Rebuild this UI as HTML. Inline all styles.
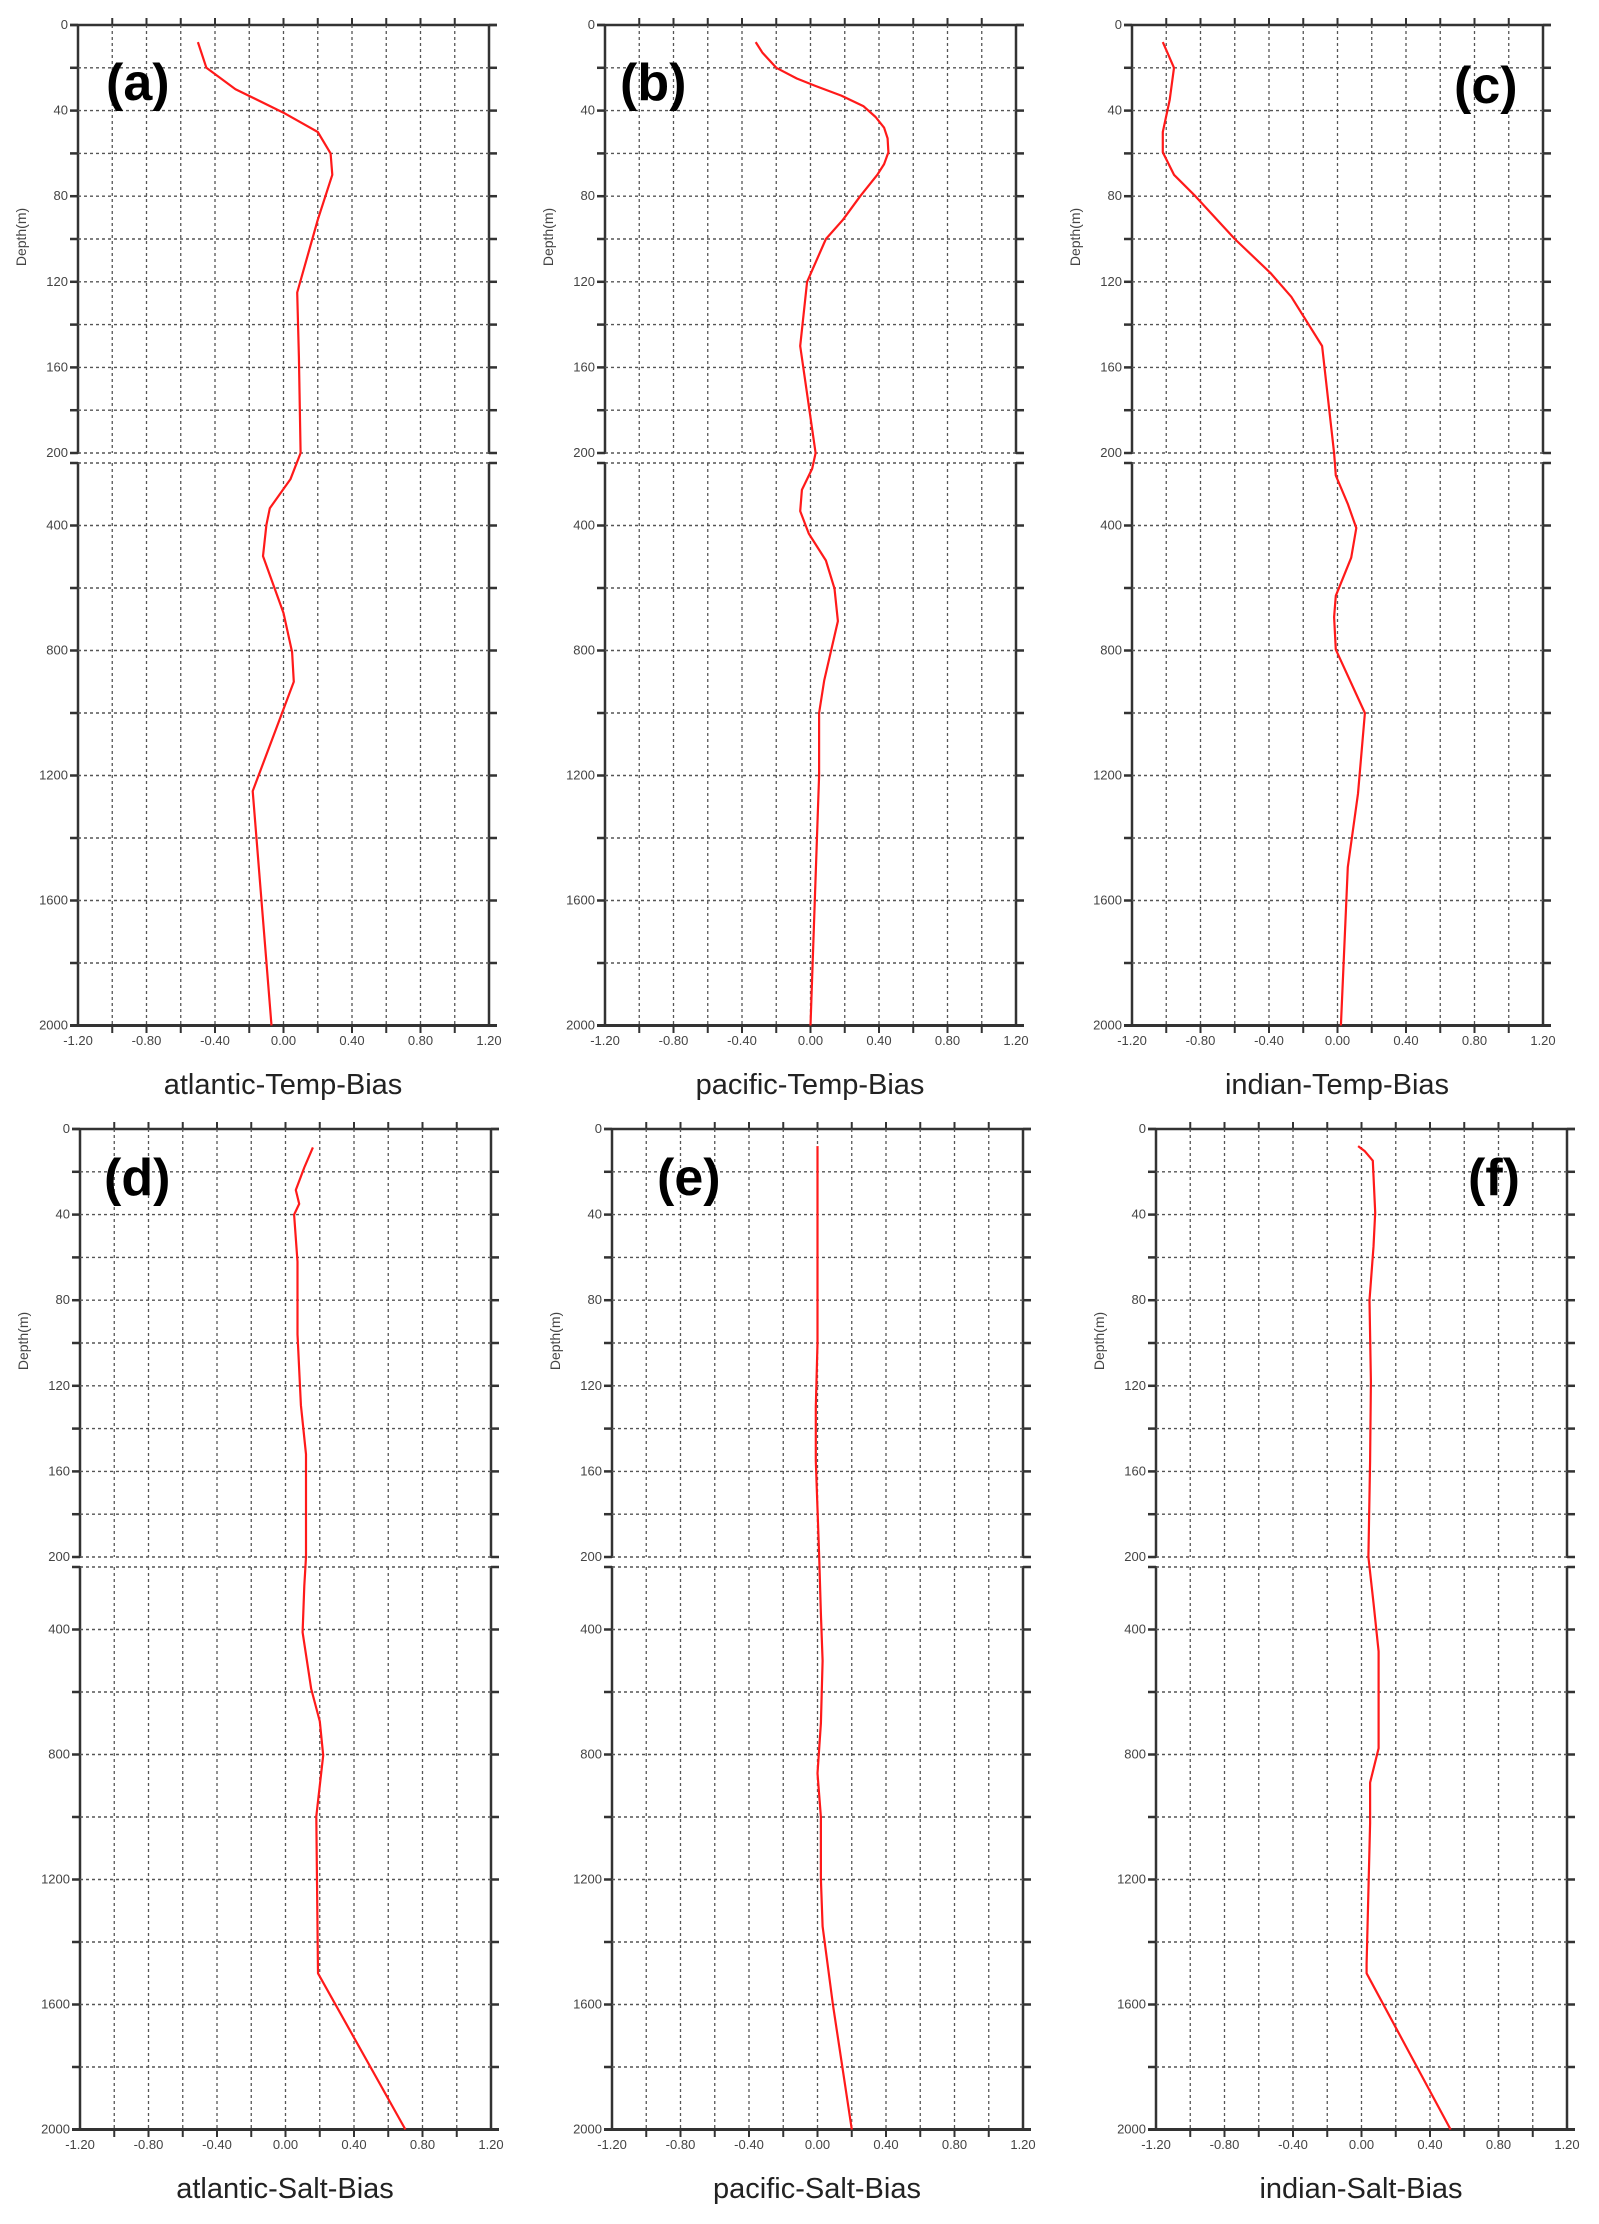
<!DOCTYPE html>
<html><head><meta charset="utf-8"><style>
html,body{margin:0;padding:0;background:#fff;width:1599px;height:2224px;overflow:hidden}
svg{display:block}
.t{font-family:"Liberation Sans",sans-serif;font-size:13px;fill:#444}
.ti{font-family:"Liberation Sans",sans-serif;font-size:29px;fill:#222;text-anchor:middle}
.lb{font-family:"Liberation Sans",sans-serif;font-size:52px;font-weight:bold;fill:#000}
.yl{text-anchor:end}
.xl{text-anchor:middle}
.dl{font-family:"Liberation Sans",sans-serif;font-size:14px;fill:#444;text-anchor:middle}
</style></head><body>
<svg id="s" width="1599" height="2224" viewBox="0 0 1599 2224" xmlns="http://www.w3.org/2000/svg">
<g id="p0" transform="translate(78,25)">
<text class="t yl" x="-10" y="4">0</text><text class="t yl" x="-10" y="89.6">40</text><text class="t yl" x="-10" y="175.2">80</text><text class="t yl" x="-10" y="260.8">120</text><text class="t yl" x="-10" y="346.4">160</text><text class="t yl" x="-10" y="432">200</text><text class="t yl" x="-10" y="504.5">400</text><text class="t yl" x="-10" y="629.5">800</text><text class="t yl" x="-10" y="754.5">1200</text><text class="t yl" x="-10" y="879.5">1600</text><text class="t yl" x="-10" y="1004.5">2000</text>
<text class="t xl" x="0" y="1020">-1.20</text><text class="t xl" x="68.5" y="1020">-0.80</text><text class="t xl" x="137" y="1020">-0.40</text><text class="t xl" x="205.5" y="1020">0.00</text><text class="t xl" x="274" y="1020">0.40</text><text class="t xl" x="342.5" y="1020">0.80</text><text class="t xl" x="411" y="1020">1.20</text>
<text class="dl" transform="translate(-52,212) rotate(-90)">Depth(m)</text>
<text class="ti" x="205" y="1069">atlantic-Temp-Bias</text>
<text class="lb" x="28" y="75">(a)</text>
</g>
<g id="p1" transform="translate(605,25)">
<text class="t yl" x="-10" y="4">0</text><text class="t yl" x="-10" y="89.6">40</text><text class="t yl" x="-10" y="175.2">80</text><text class="t yl" x="-10" y="260.8">120</text><text class="t yl" x="-10" y="346.4">160</text><text class="t yl" x="-10" y="432">200</text><text class="t yl" x="-10" y="504.5">400</text><text class="t yl" x="-10" y="629.5">800</text><text class="t yl" x="-10" y="754.5">1200</text><text class="t yl" x="-10" y="879.5">1600</text><text class="t yl" x="-10" y="1004.5">2000</text>
<text class="t xl" x="0" y="1020">-1.20</text><text class="t xl" x="68.5" y="1020">-0.80</text><text class="t xl" x="137" y="1020">-0.40</text><text class="t xl" x="205.5" y="1020">0.00</text><text class="t xl" x="274" y="1020">0.40</text><text class="t xl" x="342.5" y="1020">0.80</text><text class="t xl" x="411" y="1020">1.20</text>
<text class="dl" transform="translate(-52,212) rotate(-90)">Depth(m)</text>
<text class="ti" x="205" y="1069">pacific-Temp-Bias</text>
<text class="lb" x="15" y="75">(b)</text>
</g>
<g id="p2" transform="translate(1132,25)">
<text class="t yl" x="-10" y="4">0</text><text class="t yl" x="-10" y="89.6">40</text><text class="t yl" x="-10" y="175.2">80</text><text class="t yl" x="-10" y="260.8">120</text><text class="t yl" x="-10" y="346.4">160</text><text class="t yl" x="-10" y="432">200</text><text class="t yl" x="-10" y="504.5">400</text><text class="t yl" x="-10" y="629.5">800</text><text class="t yl" x="-10" y="754.5">1200</text><text class="t yl" x="-10" y="879.5">1600</text><text class="t yl" x="-10" y="1004.5">2000</text>
<text class="t xl" x="0" y="1020">-1.20</text><text class="t xl" x="68.5" y="1020">-0.80</text><text class="t xl" x="137" y="1020">-0.40</text><text class="t xl" x="205.5" y="1020">0.00</text><text class="t xl" x="274" y="1020">0.40</text><text class="t xl" x="342.5" y="1020">0.80</text><text class="t xl" x="411" y="1020">1.20</text>
<text class="dl" transform="translate(-52,212) rotate(-90)">Depth(m)</text>
<text class="ti" x="205" y="1069">indian-Temp-Bias</text>
<text class="lb" x="322" y="78">(c)</text>
</g>
<g id="p3" transform="translate(80,1129)">
<text class="t yl" x="-10" y="4">0</text><text class="t yl" x="-10" y="89.6">40</text><text class="t yl" x="-10" y="175.2">80</text><text class="t yl" x="-10" y="260.8">120</text><text class="t yl" x="-10" y="346.4">160</text><text class="t yl" x="-10" y="432">200</text><text class="t yl" x="-10" y="504.5">400</text><text class="t yl" x="-10" y="629.5">800</text><text class="t yl" x="-10" y="754.5">1200</text><text class="t yl" x="-10" y="879.5">1600</text><text class="t yl" x="-10" y="1004.5">2000</text>
<text class="t xl" x="0" y="1020">-1.20</text><text class="t xl" x="68.5" y="1020">-0.80</text><text class="t xl" x="137" y="1020">-0.40</text><text class="t xl" x="205.5" y="1020">0.00</text><text class="t xl" x="274" y="1020">0.40</text><text class="t xl" x="342.5" y="1020">0.80</text><text class="t xl" x="411" y="1020">1.20</text>
<text class="dl" transform="translate(-52,212) rotate(-90)">Depth(m)</text>
<text class="ti" x="205" y="1069">atlantic-Salt-Bias</text>
<text class="lb" x="24" y="66">(d)</text>
</g>
<g id="p4" transform="translate(612,1129)">
<text class="t yl" x="-10" y="4">0</text><text class="t yl" x="-10" y="89.6">40</text><text class="t yl" x="-10" y="175.2">80</text><text class="t yl" x="-10" y="260.8">120</text><text class="t yl" x="-10" y="346.4">160</text><text class="t yl" x="-10" y="432">200</text><text class="t yl" x="-10" y="504.5">400</text><text class="t yl" x="-10" y="629.5">800</text><text class="t yl" x="-10" y="754.5">1200</text><text class="t yl" x="-10" y="879.5">1600</text><text class="t yl" x="-10" y="1004.5">2000</text>
<text class="t xl" x="0" y="1020">-1.20</text><text class="t xl" x="68.5" y="1020">-0.80</text><text class="t xl" x="137" y="1020">-0.40</text><text class="t xl" x="205.5" y="1020">0.00</text><text class="t xl" x="274" y="1020">0.40</text><text class="t xl" x="342.5" y="1020">0.80</text><text class="t xl" x="411" y="1020">1.20</text>
<text class="dl" transform="translate(-52,212) rotate(-90)">Depth(m)</text>
<text class="ti" x="205" y="1069">pacific-Salt-Bias</text>
<text class="lb" x="45" y="66">(e)</text>
</g>
<g id="p5" transform="translate(1156,1129)">
<text class="t yl" x="-10" y="4">0</text><text class="t yl" x="-10" y="89.6">40</text><text class="t yl" x="-10" y="175.2">80</text><text class="t yl" x="-10" y="260.8">120</text><text class="t yl" x="-10" y="346.4">160</text><text class="t yl" x="-10" y="432">200</text><text class="t yl" x="-10" y="504.5">400</text><text class="t yl" x="-10" y="629.5">800</text><text class="t yl" x="-10" y="754.5">1200</text><text class="t yl" x="-10" y="879.5">1600</text><text class="t yl" x="-10" y="1004.5">2000</text>
<text class="t xl" x="0" y="1020">-1.20</text><text class="t xl" x="68.5" y="1020">-0.80</text><text class="t xl" x="137" y="1020">-0.40</text><text class="t xl" x="205.5" y="1020">0.00</text><text class="t xl" x="274" y="1020">0.40</text><text class="t xl" x="342.5" y="1020">0.80</text><text class="t xl" x="411" y="1020">1.20</text>
<text class="dl" transform="translate(-52,212) rotate(-90)">Depth(m)</text>
<text class="ti" x="205" y="1069">indian-Salt-Bias</text>
<text class="lb" x="312" y="66">(f)</text>
</g>
</svg>
<script>
var NS="http://www.w3.org/2000/svg",W=411;
function Y(d){return d<=200?d*2.14:438+(d-200)*0.3125;}
function X(v){return (v+1.2)/2.4*W;}
var data=[
[[-0.5,8],[-0.45,20],[-0.28,30],[0,41],[0.2,50],[0.275,60],[0.285,70],[0.2,91],[0.08,125],[0.09,155],[0.1,200],[0.04,252],[-0.08,345],[-0.1,398],[-0.12,498],[0,680],[0.05,805],[0.06,900],[-0.18,1250],[-0.07,2000]],
[[-0.32,8],[-0.28,13],[-0.2,20],[-0.08,25],[0.03,28.5],[0.18,33],[0.31,38],[0.38,43],[0.43,48],[0.45,53],[0.455,59.5],[0.43,65],[0.39,70],[0.29,80],[0.19,91],[0.09,100],[-0.02,120],[-0.06,150],[0.03,200],[0.01,218],[-0.05,286],[-0.06,354],[-0.01,426],[0.09,512],[0.14,602],[0.16,706],[0.08,896],[0.05,1000],[0.05,1200],[0,2000]],
[[-1.02,8],[-0.955,20],[-0.98,35],[-1.02,50],[-1.02,59.5],[-0.955,70],[-0.83,80],[-0.6,100],[-0.39,116],[-0.27,127],[-0.09,150],[-0.02,200],[-0.01,240],[0.06,331],[0.11,408],[0.08,503],[-0.01,625],[-0.02,693],[-0.01,797],[0.16,1000],[0.12,1258],[0.06,1493],[0.02,2000]],
[[0.16,8.6],[0.11,18],[0.06,28.5],[0.08,35],[0.05,40],[0.07,62],[0.07,96],[0.09,129],[0.12,152],[0.12,200],[0.11,260],[0.1,409],[0.15,590],[0.2,694],[0.22,803],[0.18,998],[0.19,1500],[0.7,2000]],
[[0,8],[0,100],[-0.01,130],[-0.01,155],[0.01,200],[0.02,350],[0.03,500],[0.02,700],[0,860],[0.02,1000],[0.02,1200],[0.03,1350],[0.09,1600],[0.2,2000]],
[[-0.02,8],[0.02,10.4],[0.066,14.8],[0.08,39],[0.07,55],[0.047,80],[0.055,118],[0.05,155],[0.04,200],[0.07,315],[0.1,470],[0.1,780],[0.05,890],[0.05,1020],[0.03,1470],[0.03,1500],[0.52,2000]]
];
function el(g,t,a){var e=document.createElementNS(NS,t);for(var k in a)e.setAttribute(k,a[k]);g.insertBefore(e,g.firstChild);return e;}
for(var p=0;p<6;p++){
 var g=document.getElementById("p"+p);
 var hs=[];for(var i=0;i<=10;i++)hs.push(i*42.8);for(var i=0;i<=9;i++)hs.push(438+i*62.5);
 var segs=[[0,428],[438,1000.5]];
 for(var i=1;i<12;i++){var x=i*W/12;
  segs.forEach(function(s){el(g,"line",{x1:x,y1:s[0],x2:x,y2:s[1],stroke:"#555","stroke-width":1.3,"stroke-dasharray":"3,3"});});
  el(g,"line",{x1:x,y1:-7,x2:x,y2:0,stroke:"#333","stroke-width":2});
  el(g,"line",{x1:x,y1:1000.5,x2:x,y2:1008,stroke:"#333","stroke-width":2});
 }
 hs.forEach(function(y,idx){
  if(idx!=0&&idx!=20) el(g,"line",{x1:0,y1:y,x2:W,y2:y,stroke:"#555","stroke-width":1.4,"stroke-dasharray":"3,3"});
  el(g,"line",{x1:-8,y1:y,x2:0,y2:y,stroke:"#333","stroke-width":2.5});
  el(g,"line",{x1:W,y1:y,x2:W+8,y2:y,stroke:"#333","stroke-width":2.5});
 });
 el(g,"line",{x1:-8,y1:0,x2:W+8,y2:0,stroke:"#333","stroke-width":2.5});
 el(g,"line",{x1:-8,y1:1000.5,x2:W+8,y2:1000.5,stroke:"#333","stroke-width":3});
 segs.forEach(function(s){
  el(g,"line",{x1:0,y1:s[0]-1,x2:0,y2:s[1]+1,stroke:"#333","stroke-width":2.5});
  el(g,"line",{x1:W,y1:s[0]-1,x2:W,y2:s[1]+1,stroke:"#333","stroke-width":2.5});
 });
 var pts=data[p].map(function(q){return X(q[0]).toFixed(1)+","+Y(q[1]).toFixed(1);}).join(" ");
 var pl=document.createElementNS(NS,"polyline");
 pl.setAttribute("points",pts);pl.setAttribute("fill","none");pl.setAttribute("stroke","#ff1a1a");pl.setAttribute("stroke-width","2.2");pl.setAttribute("stroke-linejoin","round");
 var firstText=g.querySelector("text");g.insertBefore(pl,firstText);
}
</script>
</body></html>
